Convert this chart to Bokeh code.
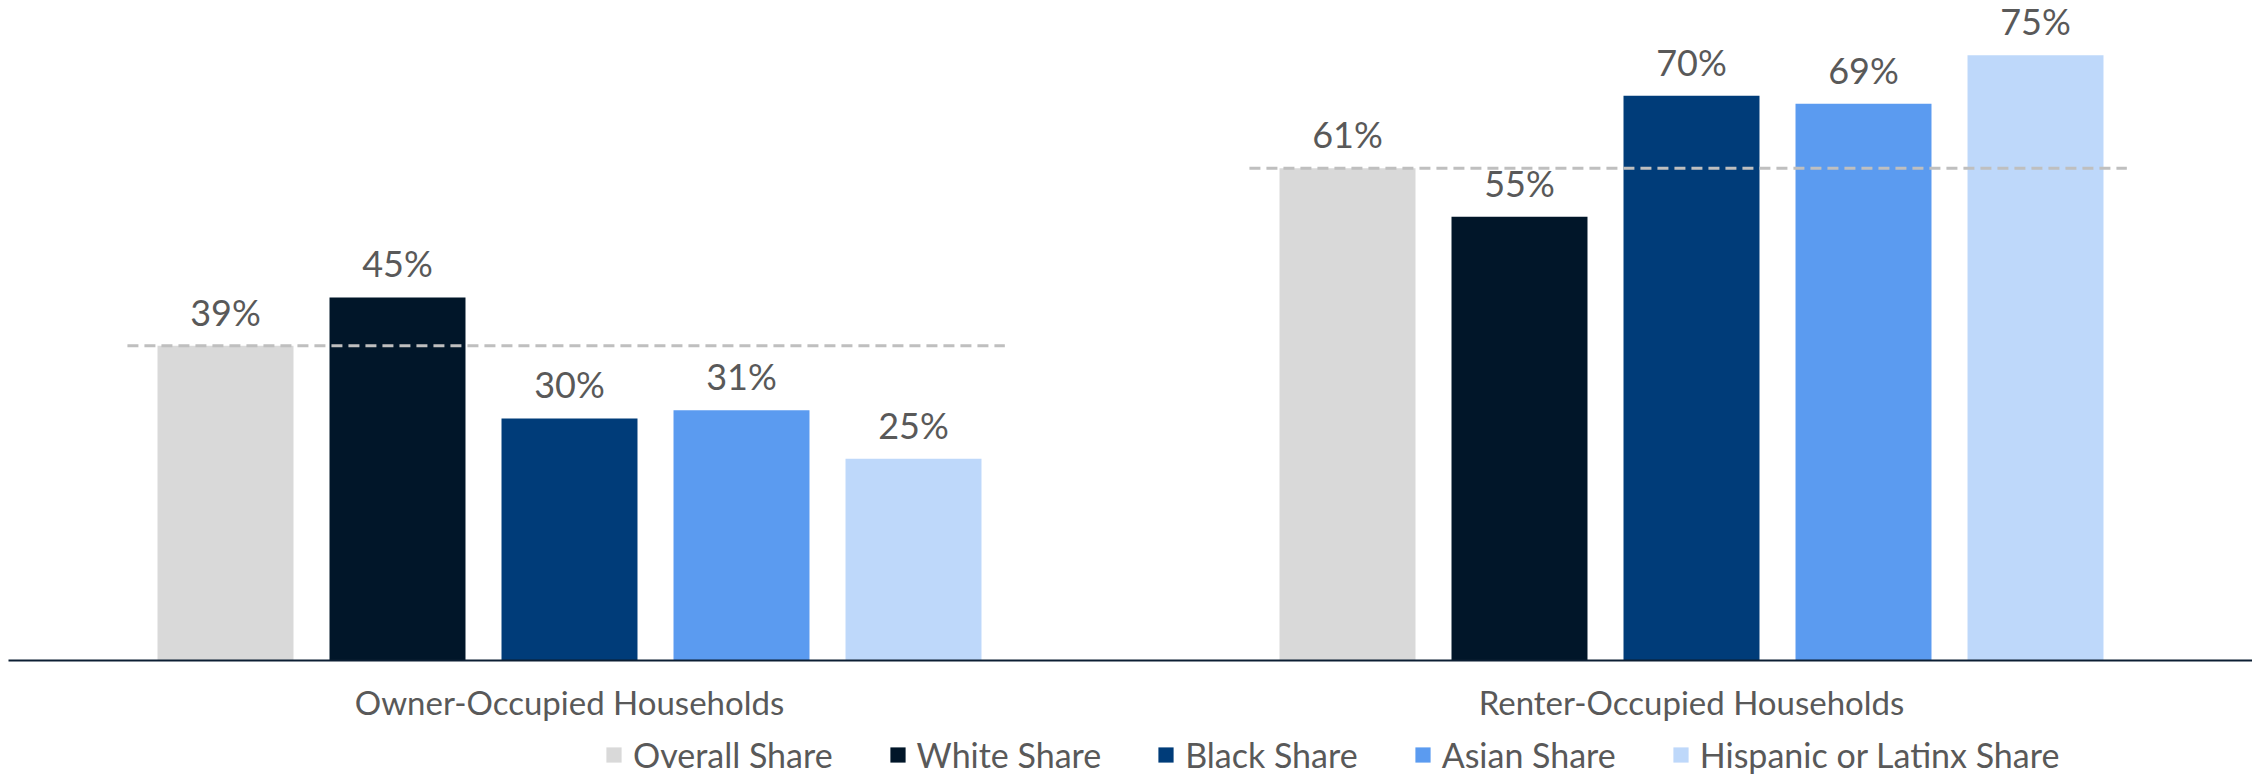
from bokeh.plotting import figure
from bokeh.layouts import column
from bokeh.models import ColumnDataSource, FactorRange, Legend, LegendItem, LabelSet, Range1d
from bokeh.transform import dodge
from bokeh.embed import file_html
from bokeh.resources import INLINE
from bokeh.core.properties import value

# ---- data ----
categories = ["Owner-Occupied Households", "Renter-Occupied Households"]
series_names = ["Overall Share", "White Share", "Black Share", "Asian Share", "Hispanic or Latinx Share"]
overall_share = [39, 61]
white_share = [45, 55]
black_share = [30, 70]
asian_share = [31, 69]
hispanic_share = [25, 75]

series_values = [overall_share, white_share, black_share, asian_share, hispanic_share]
colors = ["#D9D9D9", "#011629", "#003C79", "#5B9BF0", "#BED8FA"]
offsets = [-0.3066, -0.1533, 0.0, 0.1533, 0.3066]

FONT = "Lato"
TEXT_COLOR = "#595959"

p = figure(
    x_range=FactorRange(*categories, range_padding=0),
    y_range=(0, 80.8),
    width=2252, height=724,
    output_backend="svg", toolbar_location=None,
    min_border_left=8, min_border_right=0, min_border_top=8, min_border_bottom=64,
    outline_line_color=None,
)
p.title.visible = False
p.xgrid.grid_line_color = None
p.ygrid.grid_line_color = None
p.yaxis.visible = False

sources = []
for name, vals, col, off in zip(series_names, series_values, colors, offsets):
    src = ColumnDataSource(dict(cat=categories, val=vals, lab=[f"{v}%" for v in vals]))
    sources.append(src)
    p.vbar(x=dodge("cat", off, range=p.x_range), top="val", width=0.1212,
           source=src, fill_color=col, line_color=None)
    labels = LabelSet(x=dodge("cat", off, range=p.x_range), y="val", text="lab", source=src,
                      text_align="center", text_baseline="bottom", y_offset=12,
                      text_font=value(FONT), text_font_size="36px", text_color=TEXT_COLOR)
    p.add_layout(labels)

# dashed reference line at the overall share
ref_src = ColumnDataSource(dict(cat=categories, val=overall_share))
p.segment(x0=dodge("cat", -0.394, range=p.x_range), x1=dodge("cat", 0.388, range=p.x_range),
          y0="val", y1="val", source=ref_src,
          line_color="#BFBFBF", line_width=3, line_dash="11 6")

p.xaxis.axis_line_color = "#0C1E33"
p.xaxis.axis_line_width = 2
p.xaxis.major_tick_line_color = None
p.xaxis.minor_tick_line_color = None
p.xaxis.major_tick_out = 0
p.xaxis.major_tick_in = 0
p.xaxis.major_label_text_font = FONT
p.xaxis.major_label_text_font_size = "33px"
p.xaxis.major_label_text_color = TEXT_COLOR
p.xaxis.major_label_standoff = 21

# ---- legend strip (zero-width swatch renderers: only their legend swatches show) ----
lg = figure(
    width=2252, height=51, x_range=FactorRange(*categories), y_range=Range1d(-2, -1),
    x_axis_type=None, y_axis_type=None,
    output_backend="svg", toolbar_location=None,
    min_border_left=0, min_border_right=0, min_border_top=0, min_border_bottom=0,
    outline_line_color=None,
)
lg.title.visible = False
lg.xgrid.grid_line_color = None
lg.ygrid.grid_line_color = None
swatches = []
for src, col in zip(sources, colors):
    swatches.append(lg.vbar(x="cat", top="val", width=0, source=src,
                            fill_color=col, line_color=None))

legend = Legend(
    items=[LegendItem(label=n, renderers=[r]) for n, r in zip(series_names, swatches)],
    orientation="horizontal", location=(596, 0),
    border_line_color=None, background_fill_alpha=0,
    glyph_width=19, glyph_height=19, label_standoff=10, spacing=55,
    padding=0, margin=0,
    label_text_font=FONT, label_text_font_size="34px", label_text_color=TEXT_COLOR,
)
lg.add_layout(legend)

layout = column(p, lg, spacing=0)
open("out.html", "w").write(file_html(layout, INLINE))
